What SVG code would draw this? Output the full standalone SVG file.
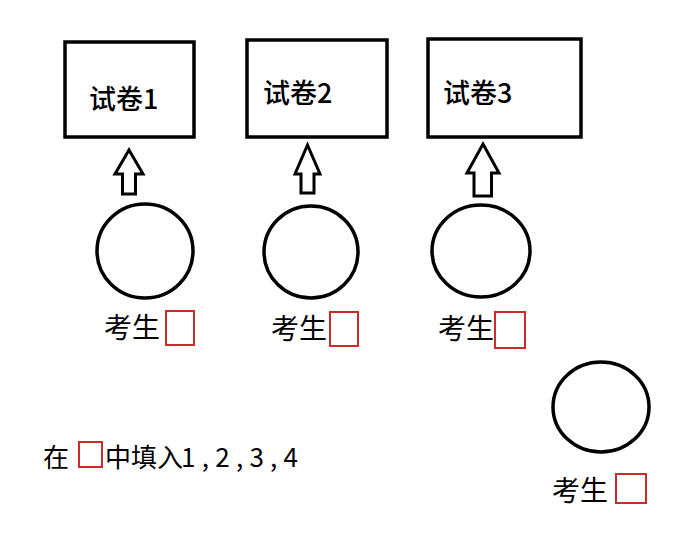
<svg xmlns="http://www.w3.org/2000/svg" width="678" height="544" viewBox="0 0 678 544">
<style>
.box{fill:#fff;stroke:#000;stroke-width:3.5}
.circ{fill:#fff;stroke:#000;stroke-width:3.5}
.arr{fill:#fff;stroke:#000;stroke-width:3;stroke-linejoin:miter}
.red{fill:none;stroke:#cc2b2b;stroke-width:2}
.t{font-family:"Noto Sans CJK SC","Noto Sans",sans-serif;fill:#000}
.tb{font-size:27px;font-weight:500}
.tl{font-size:28px}
.ti{font-size:26px}
</style>
<rect width="678" height="544" fill="#fff"/>
<g id="paper1">
<rect class="box" x="65" y="42" width="129" height="95"/>
<text class="t tb" x="89" y="109">试卷1</text>
</g>
<g id="paper2">
<rect class="box" x="247" y="40" width="140" height="97"/>
<text class="t tb" x="263" y="103">试卷2</text>
</g>
<g id="paper3">
<rect class="box" x="428" y="39" width="153" height="98"/>
<text class="t tb" x="443" y="103">试卷3</text>
</g>
<g id="connectors">
<path class="arr" d="M129,150 L143,174 L135.5,174 L135.5,194 L122.5,194 L122.5,174 L115,174 Z"/>
<path class="arr" d="M307.5,145 L320,174 L314,174 L314,193 L301,193 L301,174 L295,174 Z"/>
<path class="arr" d="M483,144 L499,173 L491.5,173 L491.5,196 L474,196 L474,173 L467,173 Z"/>
</g>
<g id="student1">
<ellipse class="circ" cx="145" cy="251" rx="48" ry="47"/>
<text class="t tl" x="104" y="338">考生</text>
<rect class="red" x="166" y="311" width="28" height="34"/>
</g>
<g id="student2">
<ellipse class="circ" cx="311" cy="252" rx="47" ry="46"/>
<text class="t tl" x="271" y="339">考生</text>
<rect class="red" x="330" y="312" width="28" height="34"/>
</g>
<g id="student3">
<ellipse class="circ" cx="481" cy="251" rx="49" ry="46"/>
<text class="t tl" x="438" y="339">考生</text>
<rect class="red" x="495" y="312" width="30" height="36"/>
</g>
<g id="student4">
<ellipse class="circ" cx="601" cy="407" rx="48" ry="45"/>
<text class="t tl" x="552" y="501">考生</text>
<rect class="red" x="616" y="474" width="30" height="29"/>
</g>
<g id="instruction">
<text class="t ti" x="43" y="467">在</text>
<rect class="red" x="79" y="442" width="23" height="25"/>
<text class="t ti" x="105" y="467">中填入</text>
<text class="t ti" x="181" y="467" textLength="117" lengthAdjust="spacing">1,2,3,4</text>
</g>
</svg>
